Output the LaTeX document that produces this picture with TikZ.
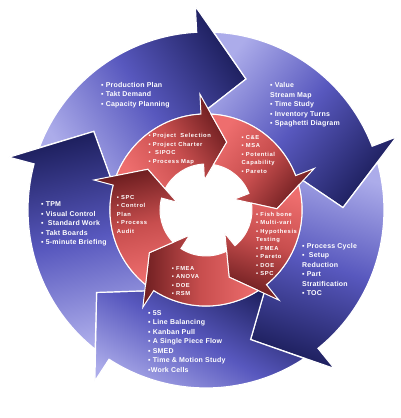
\documentclass[tikz,border=0pt]{standalone}
\usepackage{fontspec}
\setmainfont{Liberation Sans}
\newfontfamily\outerfont[LetterSpace=3]{Liberation Sans}
\newfontfamily\innerfont[LetterSpace=10]{Liberation Sans}
\definecolor{navy}{RGB}{30,32,95}
\definecolor{bluemid}{RGB}{88,88,190}
\definecolor{lavender}{RGB}{172,172,234}
\definecolor{maroon}{RGB}{110,30,32}
\definecolor{redmid}{RGB}{200,78,78}
\definecolor{salmon}{RGB}{238,110,110}
\newcommand{\sq}{▪}
\tikzset{
  blueshaft/.style={draw=white, line width=1.2pt, top color=navy, bottom color=lavender, middle color=bluemid},
  redshaft/.style={draw=white, line width=1pt, top color=maroon, bottom color=salmon, middle color=redmid},
  outertext/.style={text=white, font=\outerfont\bfseries\fontsize{7}{9.5}\selectfont, align=left, anchor=north west, inner sep=0pt},
  innertext/.style={text=white, font=\innerfont\bfseries\fontsize{5.8}{8.5}\selectfont, align=left, anchor=north west, inner sep=0pt}
}

\begin{document}
\begin{tikzpicture}[x=1pt,y=1pt]
\useasboundingbox (-206,-208) rectangle (194,210);
% outer cycle
\foreach \b/\sa in {93/-57,21/-129,-51/162,-123/-30,-195/13}
  \shadedraw[blueshaft, shading angle=\sa] ({\b+66.5}:178) arc[start angle=\b+66.5, end angle=\b, radius=178]
    -- (\b:204) -- ({\b-20}:137) -- (\b:96) arc[start angle=\b, end angle=\b+72, radius=96]
    -- ({\b+52}:137) -- cycle;
% inner cycle
\foreach \b/\ra in {93/-57,21/-129,-51/162,-123/90,-195/13}
  \shadedraw[redshaft, shading angle=\ra] ({\b+66}:96) arc[start angle=\b+66, end angle=\b, radius=96]
    -- (\b:116) -- ({\b-20}:71) -- (\b:30) -- (\b:46) arc[start angle=\b, end angle=\b+59.6, radius=46]
    -- ({\b+52}:71) -- cycle;

\node[outertext] (plan) at (-105,128) {\sq{} Production Plan\\\sq{} Takt Demand\\\sq{} Capacity Planning};
\node[outertext] (vsm) at (64,127.5) {\sq{} Value\\Stream Map\\\sq{} Time Study\\\sq{} Inventory Turns\\\sq{} Spaghetti Diagram};
\node[outertext] (cycle) at (96,-33) {\sq{} Process Cycle\\\sq{}~ Setup\\Reduction\\\sq{} Part\\Stratification\\\sq{} TOC};
\node[outertext] (flow) at (-58,-100) {\sq{} 5S\\\sq{} Line Balancing\\\sq{} Kanban Pull\\\sq{} A Single Piece Flow\\\sq{} SMED\\\sq{} Time \& Motion Study\\\sq{}Work Cells};
\node[outertext] (tpm) at (-165,8.5) {\sq{} TPM\\\sq{} Visual Control\\\sq{}~ Standard Work\\\sq{} Takt Boards\\\sq{} 5-minute Briefing};

\node[innertext] (define) at (-57.5,76.7) {\sq{} Project~ Selection\\\sq{} Project Charter\\\sq{}~ SIPOC\\\sq{} Process Map};
\node[innertext] (measure) at (35.5,75) {\sq{} C\&E\\\sq{} MSA\\\sq{} Potential\\Capability\\\sq{} Pareto};
\node[innertext] (analyze) at (50,-1.7) {\sq{} Fish bone\\\sq{} Multi-vari\\\sq{} Hypothesis\\Testing\\\sq{} FMEA\\\sq{} Pareto\\\sq{} DOE\\\sq{} SPC};
\node[innertext] (improve) at (-34.3,-56) {\sq{} FMEA\\\sq{} ANOVA\\\sq{} DOE\\\sq{} RSM};
\node[innertext] (control) at (-89.3,15) {\sq{} SPC\\\sq{} Control\\Plan\\\sq{} Process\\Audit};
\end{tikzpicture}
\end{document}
